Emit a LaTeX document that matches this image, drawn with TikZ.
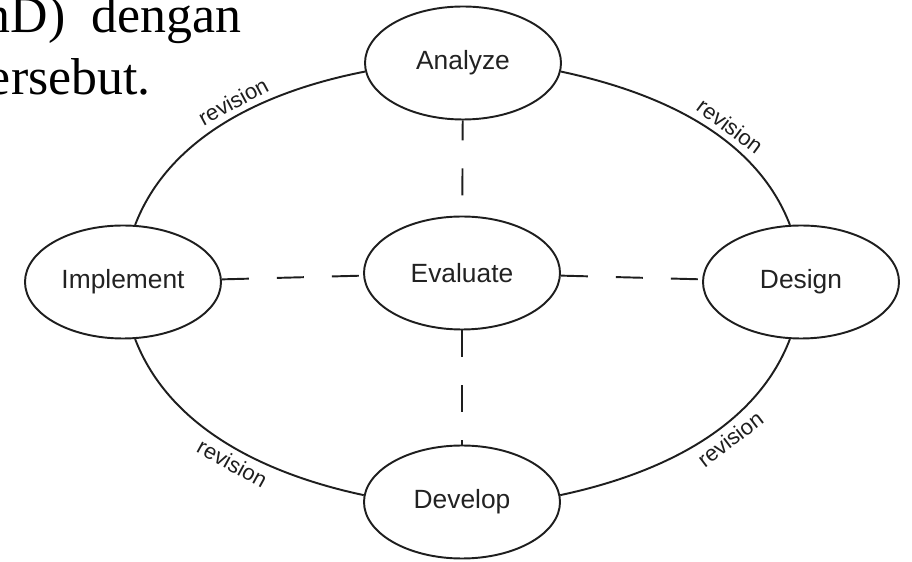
\documentclass[tikz,border=0pt]{standalone}
\usepackage{fontspec}
\setsansfont{Liberation Sans}
\newfontfamily\bodyserif{Liberation Serif}
\usepackage{tikz}
\usetikzlibrary{shapes.geometric, positioning}
\definecolor{inkline}{HTML}{1E1E1E}
\definecolor{inktext}{HTML}{222222}

\begin{document}
\begin{tikzpicture}[
  phase/.style={
    ellipse, draw=inkline, fill=white, line width=1.1pt,
    minimum width=3.92cm, minimum height=2.26cm, inner sep=0pt,
    font=\sffamily\fontsize{15}{18}\selectfont\color{inktext}
  },
  revloop/.style={line width=1.1pt, color=inkline, looseness=0.9},
  link/.style={line width=1.1pt, color=inkline, dash pattern=on 0.54cm off 0.56cm},
  rev/.style={sloped, inner sep=3pt, font=\sffamily\fontsize{12.5}{14}\selectfont\color{inktext}},
  bodytext/.style={inner sep=0pt, font=\bodyserif\fontsize{29.5}{35}\selectfont}
]
  \useasboundingbox (0,0) rectangle (18.24,-11.24);

  \node[bodytext, anchor=base east] (line1) at (4.84,-0.66) {nD)\hspace{15pt}dengan};
  \node[bodytext, anchor=base east] (line2) at (3.02,-1.90) {ersebut.};

  \node[phase] (analyze)   at (9.26,-1.26)  {Analyze};
  \node[phase] (evaluate)  at (9.24,-5.46)  {Evaluate};
  \node[phase] (implement) at (2.46,-5.64)  {Implement};
  \node[phase] (design)    at (16.02,-5.64) {Design};
  \node[phase] (develop)   at (9.24,-10.04) {Develop};

  \draw[revloop] (analyze.-5) to[out=-12, in=111]
    node[rev, above, pos=0.6] {revision} (design.101);
  \draw[revloop] (design.259) to[out=-111, in=12]
    node[rev, below, pos=0.4] {revision} (develop.4);
  \draw[revloop] (develop.176) to[out=168, in=-69]
    node[rev, below, pos=0.45] {revision} (implement.282);
  \draw[revloop] (implement.78) to[out=69, in=191]
    node[rev, above, pos=0.55] {revision} (analyze.185);

  \draw[link, dash phase=0.14cm] (analyze) -- (evaluate);
  \draw[link] (evaluate) -- (develop);
  \draw[link] (implement) -- (evaluate);
  \draw[link] (evaluate) -- (design);
\end{tikzpicture}
\end{document}
